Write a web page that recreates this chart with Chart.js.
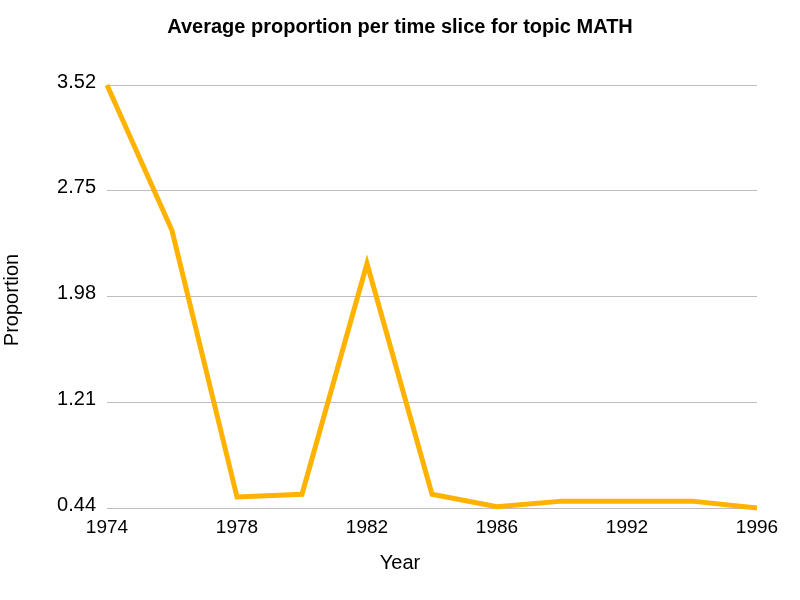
<!DOCTYPE html>
<html>
<head>
<meta charset="utf-8">
<script src="https://cdn.jsdelivr.net/npm/chart.js@4/dist/chart.umd.min.js"></script>
<style>
html,body{margin:0;padding:0;background:#fff;}
#wrap{width:800px;height:600px;}
</style>
</head>
<body>
<div id="wrap"><canvas id="c" width="800" height="600"></canvas></div>
<script>
const years = ["1974","1976","1978","1980","1982","1984","1986","1990","1992","1994","1996"];
const proportion = [3.52, 2.46, 0.52, 0.54, 2.22, 0.54, 0.45, 0.49, 0.49, 0.49, 0.44];
const yTicks = [0.44, 1.21, 1.98, 2.75, 3.52];
const shownYears = ["1974","1978","1982","1986","1992","1996"];
const xTitle = "Year";
const yTitle = "Proportion";

const FONT = "'Liberation Sans', Helvetica, Arial, sans-serif";

const axisTitles = {
  id: 'axisTitles',
  afterDraw(chart) {
    const ctx = chart.ctx;
    ctx.save();
    ctx.fillStyle = '#000';
    ctx.font = "20px " + FONT;
    ctx.textAlign = 'center';
    ctx.textBaseline = 'middle';
    ctx.fillText(xTitle, chart.width / 2, 563);
    ctx.translate(12, chart.height / 2);
    ctx.rotate(-Math.PI / 2);
    ctx.fillText(yTitle, 0, 0);
    ctx.restore();
  }
};

new Chart(document.getElementById('c'), {
  type: 'line',
  data: {
    labels: years,
    datasets: [{
      data: proportion,
      borderColor: '#FFB300',
      borderWidth: 5,
      pointRadius: 0,
      tension: 0,
      fill: false,
      clip: false
    }]
  },
  options: {
    responsive: false,
    animation: false,
    layout: { padding: { left: 43, right: 43, top: 0, bottom: 0 } },
    plugins: {
      legend: { display: false },
      tooltip: { enabled: false },
      title: {
        display: true,
        text: 'Average proportion per time slice for topic MATH',
        color: '#000',
        font: { family: FONT, size: 20, weight: 'bold' },
        padding: { top: 15, bottom: 46 }
      }
    },
    scales: {
      x: {
        type: 'category',
        offset: false,
        grid: { display: false, drawTicks: false },
        border: { display: false },
        ticks: {
          color: '#000',
          font: { family: FONT, size: 19 },
          padding: 8,
          autoSkip: false,
          maxRotation: 0,
          callback: function(v, i) { const l = years[i]; return shownYears.includes(l) ? l : ''; }
        },
        title: { display: false },
        afterFit: function(s) { s.height = 92; }
      },
      y: {
        min: 0.44,
        max: 3.52,
        grid: { color: '#BDBDBD', lineWidth: 1, drawTicks: false },
        border: { display: false },
        afterBuildTicks: function(s) { s.ticks = yTicks.map(v => ({ value: v })); },
        ticks: {
          color: '#000',
          font: { family: FONT, size: 20 },
          padding: 11,
          labelOffset: -3,
          callback: function(v) { return v.toFixed(2); }
        },
        title: { display: false },
        afterFit: function(s) { s.width = 64; }
      }
    }
  },
  plugins: [axisTitles]
});
</script>
</body>
</html>
